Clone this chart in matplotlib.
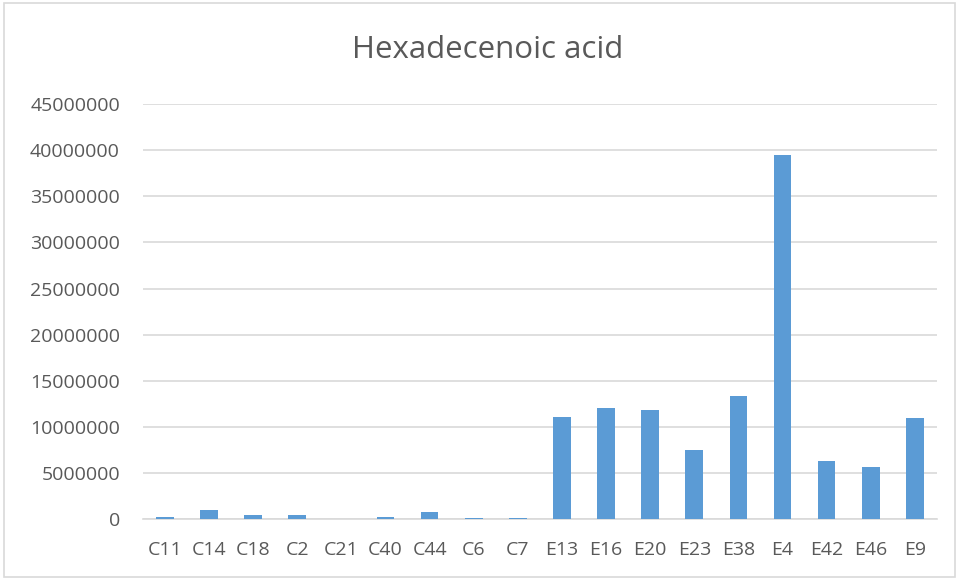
import matplotlib
matplotlib.use('Agg')
import matplotlib.pyplot as plt
from matplotlib.patches import Rectangle
from matplotlib.ticker import MultipleLocator, FuncFormatter

plt.rcParams['font.family'] = ['Open Sans', 'DejaVu Sans']

# 样本与含量
samples = ['C11', 'C14', 'C18', 'C2', 'C21', 'C40', 'C44', 'C6', 'C7',
           'E13', 'E16', 'E20', 'E23', 'E38', 'E4', 'E42', 'E46', 'E9']
values = [180000, 980000, 400000, 470000, 50000, 200000, 760000, 150000, 150000,
          11060000, 12000000, 11820000, 7480000, 13340000, 39500000,
          6320000, 5600000, 10990000]

BAR_COLOR = '#5b9bd5'
TEXT_COLOR = '#595959'
GRID_COLOR = '#d9d9d9'

fig = plt.figure(figsize=(9.59, 5.79), dpi=100)
ax = fig.add_axes([0.149, 0.1036, 0.828, 0.7164])

x = range(len(samples))
ax.bar(x, values, width=0.4, color=BAR_COLOR, zorder=3)

ax.set_xlim(-0.5, len(samples) - 0.5)
ax.set_ylim(0, 45000000)
ax.yaxis.set_major_locator(MultipleLocator(5000000))
ax.yaxis.set_major_formatter(FuncFormatter(lambda v, p: f'{int(v)}'))
ax.set_xticks(list(x))
ax.set_xticklabels(samples)

ax.grid(axis='y', color=GRID_COLOR, linewidth=1.2, zorder=0)
for s in ['top', 'right', 'left']:
    ax.spines[s].set_visible(False)
ax.spines['bottom'].set_color(GRID_COLOR)
ax.spines['bottom'].set_linewidth(1.2)
ax.tick_params(axis='both', length=0, labelsize=14, colors=TEXT_COLOR)
ax.tick_params(axis='y', pad=16.5)
ax.tick_params(axis='x', pad=16)

fig.text(0.508, 0.914, 'Hexadecenoic acid', ha='center', va='center',
         fontsize=22.5, color=TEXT_COLOR)

# 外框
fig.patches.append(Rectangle((0.004, 0.004), 0.992, 0.990, transform=fig.transFigure,
                             fill=False, edgecolor=GRID_COLOR, linewidth=1.2))

fig.savefig('out.png', dpi=100)
